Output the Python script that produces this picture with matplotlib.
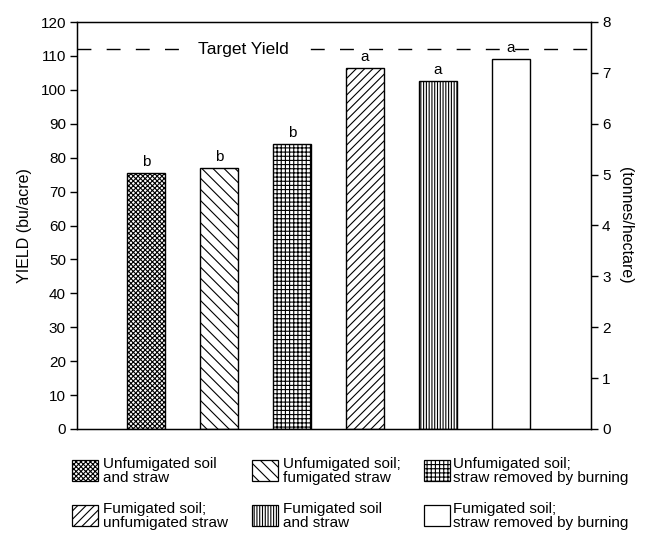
import numpy as np
import matplotlib
matplotlib.use('Agg')
import matplotlib.pyplot as plt
from matplotlib.patches import Rectangle

plt.rcParams['font.family'] = ['Liberation Sans', 'DejaVu Sans']
plt.rcParams['hatch.linewidth'] = 0.8

# wheat yield by soil / straw fumigation treatment
treatments = ['Unfumigated soil\nand straw',
              'Unfumigated soil;\nfumigated straw',
              'Unfumigated soil;\nstraw removed by burning',
              'Fumigated soil;\nunfumigated straw',
              'Fumigated soil\nand straw',
              'Fumigated soil;\nstraw removed by burning']
yields = [75.5, 77, 84, 106.5, 102.5, 109]
letters = ['b', 'b', 'b', 'a', 'a', 'a']
target_yield = 112
left_ticks = list(range(0, 121, 10))
right_ticks = list(range(0, 9))

hatches = ['xxxxxxx', '\\\\\\', '++++', '////', '||||||', '']

fig = plt.figure(figsize=(6.46, 5.40), dpi=100)
ax = fig.add_axes([77 / 646, 1 - 429 / 540, 514 / 646, 407 / 540])

x = np.arange(len(yields))
for xi, v, h in zip(x, yields, hatches):
    ax.bar(xi, v, width=0.51, facecolor='white', edgecolor='black',
           linewidth=1.0, hatch=h, zorder=2)
for xi, v, lt in zip(x, yields, letters):
    ax.text(xi, v + 1.2, lt, ha='center', va='bottom', fontsize=11, zorder=4)

ax.axhline(target_yield, color='black', lw=1.0, ls=(0, (10, 11)), zorder=3)
ax.text(1.34, target_yield, 'Target Yield', ha='center', va='center',
        fontsize=12.5, zorder=4,
        bbox=dict(facecolor='white', edgecolor='none', pad=5))

ax.set_xlim(-0.945, 6.096)
ax.set_ylim(0, 120)
ax.set_xticks([])
ax.set_yticks(left_ticks)
ax.tick_params(axis='y', direction='out', length=5, width=1, labelsize=11, pad=3)
ax.set_ylabel('YIELD (bu/acre)', fontsize=11.5, labelpad=6)
for s in ax.spines.values():
    s.set_linewidth(1.0)

ax2 = ax.twinx()
ax2.set_ylim(0, 8)
ax2.set_yticks(right_ticks)
ax2.tick_params(axis='y', direction='out', length=5, width=1, labelsize=11, pad=3)
ax2.set_ylabel('(tonnes/hectare)', fontsize=11.5, rotation=270, labelpad=16)

# legend drawn in pixel coordinates below the axes
lax = fig.add_axes([0, 0, 1, 1])
lax.set_xlim(0, 646)
lax.set_ylim(540, 0)
lax.axis('off')

sw_x = [72, 252, 424]
txt_x = [103, 283, 453]
sw_y = [460, 505]
for i, (lab, h) in enumerate(zip(treatments, hatches)):
    r, c = divmod(i, 3)
    lax.add_patch(Rectangle((sw_x[c], sw_y[r]), 26, 21, facecolor='white',
                            edgecolor='black', lw=0.9, hatch=h))
    lax.text(txt_x[c], sw_y[r] + 11, lab, ha='left', va='center',
             fontsize=11, linespacing=0.95)

fig.savefig('out.png', dpi=100)
